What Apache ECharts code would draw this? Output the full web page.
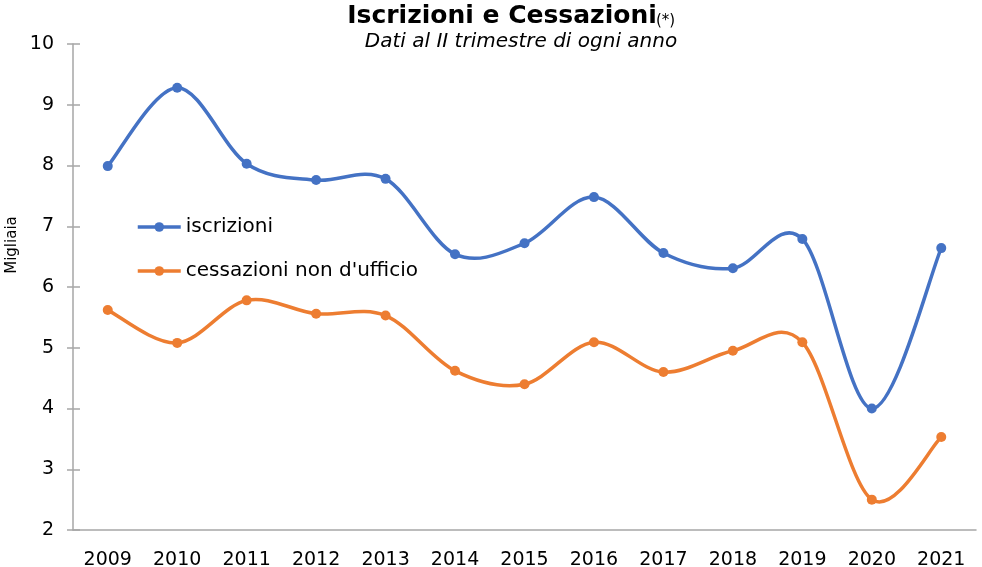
<!DOCTYPE html>
<html><head><meta charset="utf-8">
<script src="https://cdn.jsdelivr.net/npm/echarts@6/dist/echarts.min.js"></script>
<style>html,body{margin:0;padding:0;background:#fff}#c{width:982px;height:567px}</style>
</head><body><div id="c"></div>
<script>
const years = ['2009','2010','2011','2012','2013','2014','2015','2016','2017','2018','2019','2020','2021'];
const iscrizioni = [7.99, 9.28, 8.03, 7.76, 7.78, 6.54, 6.72, 7.48, 6.56, 6.31, 6.79, 4.0, 6.64];
const cessazioni = [5.62, 5.08, 5.78, 5.56, 5.53, 4.62, 4.40, 5.09, 4.60, 4.95, 5.09, 2.50, 3.53];
const yTicks = [2,3,4,5,6,7,8,9,10];

const F = 'DejaVu Sans, Verdana, sans-serif';
const BLUE = '#4472C4', ORANGE = '#ED7D31', AX = '#A6A6A6';

// Smooth curve (Catmull-Rom style, like spreadsheet smoothing) built from axis-mapped points
function smoothRender(values, color){
  return function(params, api){
    if (params.dataIndex !== 0) return null;
    const pts = values.map((v,i)=>api.coord([i, v]));
    const n = pts.length;
    let d = 'M' + pts[0][0] + ' ' + pts[0][1];
    for (let i=0;i<n-1;i++){
      const p0 = pts[Math.max(i-1,0)], p1 = pts[i], p2 = pts[i+1], p3 = pts[Math.min(i+2,n-1)];
      const c1 = [p1[0] + (p2[0]-p0[0])/6, p1[1] + (p2[1]-p0[1])/6];
      const c2 = [p2[0] - (p3[0]-p1[0])/6, p2[1] - (p3[1]-p1[1])/6];
      d += ' C' + c1[0] + ' ' + c1[1] + ' ' + c2[0] + ' ' + c2[1] + ' ' + p2[0] + ' ' + p2[1];
    }
    return {type:'path', shape:{pathData:d}, style:{fill:null, stroke:color, lineWidth:3.5, lineCap:'round', lineJoin:'round'}, silent:true};
  };
}

const chart = echarts.init(document.getElementById('c'), null, {renderer:'canvas'});
chart.setOption({
  animation:false,
  title:[{
    text:'Iscrizioni e Cessazioni',
    left:502, top:4, textAlign:'center', padding:0,
    textStyle:{fontFamily:F,fontWeight:'bold',fontSize:25,color:'#000'}
  },{
    text:'(*)',
    left:656, top:14, padding:0,
    textStyle:{fontFamily:F,fontWeight:'normal',fontSize:15,color:'#000'}
  },{
    text:'Dati al II trimestre di ogni anno',
    left:521, top:32, textAlign:'center', padding:0,
    textStyle:{fontFamily:F,fontStyle:'italic',fontWeight:'normal',fontSize:20,color:'#000'}
  }],
  graphic:[{
    type:'text', x:12, y:245, rotation:Math.PI/2,
    style:{text:'Migliaia', fontFamily:F, fontSize:15, fill:'#000', textAlign:'center', textVerticalAlign:'middle'}
  }],
  legend:{
    orient:'vertical', left:136, top:217, itemGap:24, padding:0,
    itemWidth:43, itemHeight:12,
    textStyle:{fontFamily:F,fontSize:20,color:'#000',padding:[0,0,0,0]},
    data:['iscrizioni','cessazioni non d\'ufficio']
  },
  grid:{left:73,right:6,top:44,bottom:37,outerBoundsMode:'none',containLabel:false},
  xAxis:[{
    type:'category', data:years, boundaryGap:true,
    axisLine:{lineStyle:{color:AX,width:1.5}},
    axisTick:{inside:false,length:7,lineStyle:{color:AX,width:1.5}},
    axisLabel:{fontFamily:F,fontSize:19,color:'#000',margin:21}
  },{
    type:'category', data:years, boundaryGap:true, position:'bottom',
    axisLine:{show:false},
    axisTick:{inside:true,length:7,lineStyle:{color:AX,width:1.5}},
    axisLabel:{show:false}
  }],
  yAxis:[{
    type:'value', min:2, max:10, interval:1,
    splitLine:{show:false},
    axisLine:{show:true,lineStyle:{color:AX,width:1.5}},
    axisTick:{show:true,length:6,lineStyle:{color:AX,width:1.5}},
    axisLabel:{fontFamily:F,fontSize:19,color:'#000',margin:19,
      formatter:v=>yTicks.includes(v)?String(v):''}
  },{
    type:'value', min:2, max:10, interval:1, position:'left',
    splitLine:{show:false},
    axisLine:{show:false},
    axisTick:{show:true,inside:true,length:7,lineStyle:{color:AX,width:1.5}},
    axisLabel:{show:false}
  }],
  series:[{
    name:'curve-iscrizioni', type:'custom', data:iscrizioni, renderItem:smoothRender(iscrizioni, BLUE), z:2
  },{
    name:'curve-cessazioni', type:'custom', data:cessazioni, renderItem:smoothRender(cessazioni, ORANGE), z:2
  },{
    name:'iscrizioni', type:'line', data:iscrizioni,
    symbol:'circle', symbolSize:10, z:3,
    lineStyle:{color:BLUE,width:3.5,opacity:0}, itemStyle:{color:BLUE}
  },{
    name:'cessazioni non d\'ufficio', type:'line', data:cessazioni,
    symbol:'circle', symbolSize:10, z:3,
    lineStyle:{color:ORANGE,width:3.5,opacity:0}, itemStyle:{color:ORANGE}
  }]
});
chart.setOption({legend:{data:[
  {name:'iscrizioni', lineStyle:{color:BLUE,width:3.5,opacity:1}},
  {name:'cessazioni non d\'ufficio', lineStyle:{color:ORANGE,width:3.5,opacity:1}}
]}});
</script></body></html>
